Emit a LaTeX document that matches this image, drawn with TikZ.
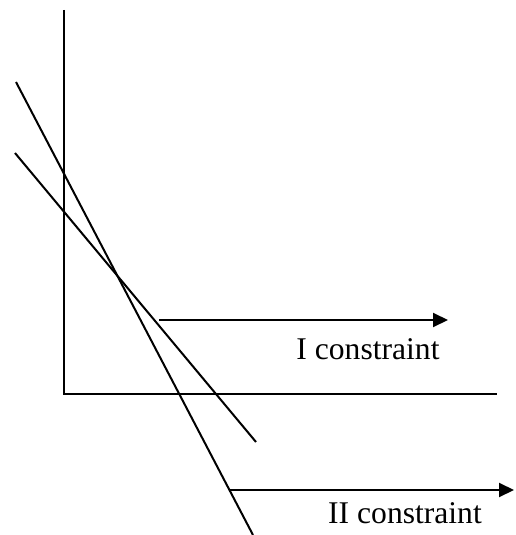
\documentclass[tikz,border=0pt]{standalone}
\usepackage{fontspec}
\setmainfont{Liberation Serif}
\usetikzlibrary{arrows.meta}
\begin{document}
\begin{tikzpicture}[x=0.5pt,y=-0.5pt,
  ln/.style={line width=1pt,black},
  arr/.style={line width=1pt,black,-{Triangle[length=7.5pt,width=7pt]}},
  lbl/.style={font=\fontsize{15.8}{19}\selectfont,inner sep=0pt,anchor=base}]
\useasboundingbox (0,0) rectangle (515,535);
% axes
\coordinate (ytop) at (64,10);
\coordinate (O) at (64,394);
\coordinate (xend) at (497,394);
\draw[ln] (ytop) -- (O) -- (xend);
% constraint lines
\coordinate (a1) at (16,82);
\coordinate (a2) at (253,535);
\coordinate (b1) at (15,153);
\coordinate (b2) at (256,442);
\draw[ln] (a1) -- (a2);
\draw[ln] (b1) -- (b2);
% arrows
\coordinate (p1) at (159,320);
\coordinate (q1) at (448,320);
\draw[arr] (p1) -- (q1);
\coordinate (p2) at (230,490);
\coordinate (q2) at (514,490);
\draw[arr] (p2) -- (q2);
% labels
\node[lbl] (t1) at (368,359) {I constraint};
\node[lbl] (t2) at (405,523) {II constraint};
\end{tikzpicture}
\end{document}
